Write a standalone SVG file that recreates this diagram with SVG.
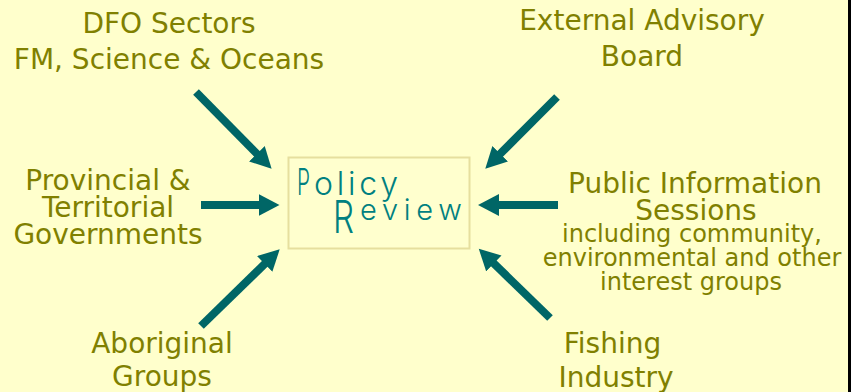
<svg xmlns="http://www.w3.org/2000/svg" width="851" height="392" viewBox="0 0 851 392">
  <style>
    .label { font-family: "DejaVu Sans", Verdana, sans-serif; font-size: 28px; fill: #808000; text-anchor: middle; }
    .small { font-size: 24px; }
    .title { font-family: Inter, "DejaVu Sans", sans-serif; font-weight: 300; fill: #008080; }
    .conn { stroke: #006666; stroke-width: 8; fill: none; marker-end: url(#head); }
  </style>
  <defs>
    <marker id="head" markerUnits="userSpaceOnUse" markerWidth="22" markerHeight="23" refX="8" refY="11" orient="auto">
      <path d="M0,0 L21,11 L0,22 Z" fill="#006666"/>
    </marker>
  </defs>

  <!-- background -->
  <rect x="0" y="0" width="851" height="392" fill="#FFFFCC"/>
  <rect x="848" y="0" width="3" height="392" fill="#000000"/>

  <!-- central node -->
  <g id="policy-review">
    <rect x="288.5" y="157.5" width="181" height="91" fill="#FFFFCE" stroke="#E6DF9E" stroke-width="2"/>
    <text class="title" x="297" y="195" font-size="37" textLength="13" lengthAdjust="spacingAndGlyphs">P</text>
    <text class="title" x="314" y="195" font-size="32" textLength="84" lengthAdjust="spacing">olicy</text>
    <text class="title" x="333" y="233" font-size="45" textLength="21" lengthAdjust="spacingAndGlyphs">R</text>
    <text class="title" x="360" y="220" font-size="29" textLength="102" lengthAdjust="spacing">eview</text>
  </g>

  <g id="dfo-sectors">
    <text class="label" x="169" y="33">DFO Sectors</text>
    <text class="label" x="169" y="69">FM, Science &amp; Oceans</text>
  </g>

  <g id="external-advisory-board">
    <text class="label" x="642" y="30">External Advisory</text>
    <text class="label" x="642" y="66">Board</text>
  </g>

  <g id="provincial-territorial">
    <text class="label" x="108" y="190">Provincial &amp;</text>
    <text class="label" x="108" y="217">Territorial</text>
    <text class="label" x="108" y="244">Governments</text>
  </g>

  <g id="public-information">
    <text class="label" x="695" y="193">Public Information</text>
    <text class="label" x="696" y="220">Sessions</text>
    <text class="label small" x="692" y="242">including community,</text>
    <text class="label small" x="692" y="266">environmental and other</text>
    <text class="label small" x="691" y="290">interest groups</text>
  </g>

  <g id="aboriginal-groups">
    <text class="label" x="162" y="353">Aboriginal</text>
    <text class="label" x="162" y="386">Groups</text>
  </g>

  <g id="fishing-industry">
    <text class="label" x="612.5" y="353">Fishing</text>
    <text class="label" x="616" y="387">Industry</text>
  </g>

  <!-- arrows pointing into the review box -->
  <g id="connectors">
    <line class="conn" x1="196" y1="92" x2="262.5" y2="159.5"/>
    <line class="conn" x1="557" y1="97" x2="494.5" y2="159.5"/>
    <line class="conn" x1="201" y1="205" x2="266.5" y2="205"/>
    <line class="conn" x1="558" y1="205" x2="491" y2="205"/>
    <line class="conn" x1="201" y1="326" x2="270.4" y2="258.4"/>
    <line class="conn" x1="550" y1="318" x2="488.1" y2="257.9"/>
  </g>
</svg>
